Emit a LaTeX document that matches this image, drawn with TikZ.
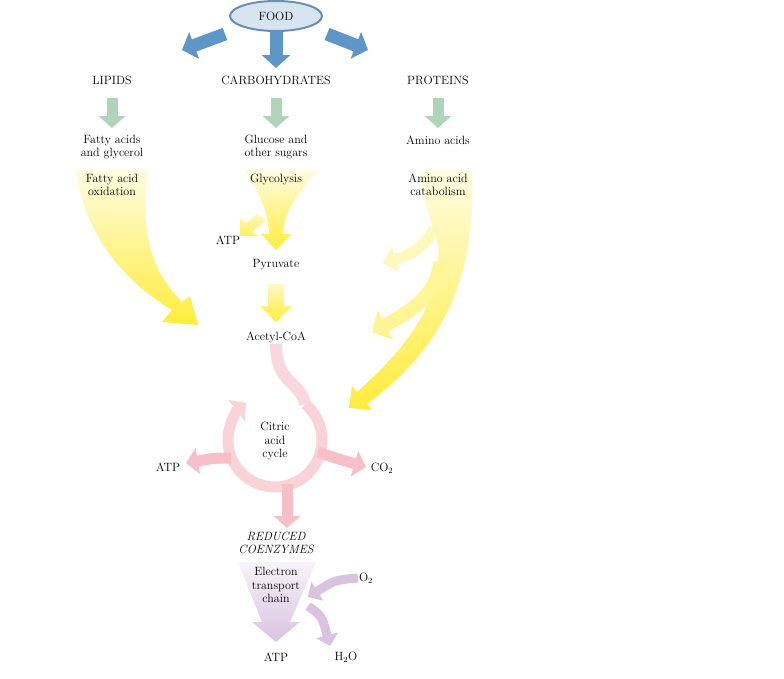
\documentclass[tikz,border=0pt]{standalone}
\usetikzlibrary{arrows.meta,calc,shapes.geometric}
\definecolor{fblue}{RGB}{95,150,200}
\definecolor{fgreen}{RGB}{175,212,185}
\definecolor{fyel}{RGB}{255,236,60}
\definecolor{fyell}{RGB}{255,244,170}
\definecolor{fpink}{RGB}{245,175,185}
\definecolor{fpur}{RGB}{218,195,225}
\begin{document}
\begin{tikzpicture}[x=1pt,y=-1pt,
  lbl/.style={font=\fontsize{12}{13.5}\selectfont,align=center,inner sep=1pt},
  barrow/.style={draw=fblue,line width=13,-{Triangle[length=13,width=28]}},
  garrow/.style={draw=fgreen,line width=11,-{Triangle[length=12,width=26]}},
  yarrow/.style={draw=fyel,line width=14,-{Triangle[length=14,width=30]}},
  parrow/.style={draw=fpink,line width=11,-{Triangle[length=12,width=26]}},
  uarrow/.style={draw=fpur,line width=9,-{Triangle[length=11,width=22]}}]
\useasboundingbox (0,0) rectangle (784,678);
% FOOD
\node[ellipse,draw=fblue!70!gray,line width=2,fill=fblue!25,minimum width=92,minimum height=30,lbl] (food) at (276,16) {FOOD};
\node[lbl] (lip) at (112,80) {LIPIDS};
\node[lbl] (carb) at (276,80) {CARBOHYDRATES};
\node[lbl] (prot) at (438,80) {PROTEINS};
\coordinate (bl) at (182,50); \coordinate (bm) at (276,68); \coordinate (br) at (368,50);
\draw[barrow] (225,34) -- (bl);
\draw[barrow] (food.south) -- (bm);
\draw[barrow] (327,34) -- (br);
% green
\coordinate (g1) at (112,128); \coordinate (g2) at (276,128); \coordinate (g3) at (438,128);
\draw[garrow] (112,98) -- (g1);
\draw[garrow] (276,98) -- (g2);
\draw[garrow] (438,98) -- (g3);
% lipid band
\shade[top color=fyel!15, bottom color=fyel] (76,170) .. controls (85,240) and (130,285) .. (172,310) -- (162,322) -- (198,325) -- (190,296) -- (182,302) .. controls (150,270) and (140,230) .. (148,170) -- cycle;
% glycolysis funnel
\shade[top color=fyel!15, bottom color=fyel] (244,170) -- (318,170) .. controls (292,200) and (284,215) .. (283,234) -- (291,234) -- (276,250) -- (261,234) -- (269,234) .. controls (268,214) and (262,195) .. (244,170) -- cycle;
\shade[top color=fyel!35, bottom color=fyel!80] (257,214) -- (266,220) -- (252,232) -- (258,236) -- (240,236) -- (240,218) -- (246,223) -- cycle;
% protein band
\shade[top color=fyel!15, bottom color=fyel] (420,170) -- (472,170) .. controls (478,300) and (425,360) .. (367,404) -- (372,410) -- (349,408) -- (352,386) -- (357,392) .. controls (410,345) and (442,300) .. (438,245) .. controls (430,215) and (422,200) .. (420,170) -- cycle;
\draw[yarrow,draw=fyel!35,line width=11,-{Triangle[length=13,width=26]}] (434,228) .. controls (425,248) and (410,255) .. (383,263);
\draw[yarrow,draw=fyel!55,line width=14,-{Triangle[length=15,width=32]}] (440,262) .. controls (438,295) and (410,312) .. (372,332);
\shade[top color=fyel!30, bottom color=fyel] (268,284) -- (284,284) -- (284,306) -- (292,306) -- (276,322) -- (260,306) -- (268,306) -- cycle;
% texts
\node[lbl] (fa) at (112,147) {Fatty acids\\and glycerol};
\node[lbl] (gl) at (276,147) {Glucose and\\other sugars};
\node[lbl] (aa) at (438,140) {Amino acids};
\node[lbl] (fox) at (112,185) {Fatty acid\\oxidation};
\node[lbl] (gly) at (276,179) {Glycolysis};
\node[lbl] (aac) at (438,185) {Amino acid\\catabolism};
\node[lbl] (atp1) at (228,240) {ATP};
\node[lbl] (pyr) at (276,265) {Pyruvate};
\node[lbl] (acoa) at (276,337) {Acetyl-CoA};
% citric acid cycle
\coordinate (cc) at (275,440);
\coordinate (ce) at ($(cc)+(-50:47)$);
\draw[draw=fpink!50!white,line width=12] (acoa.south) .. controls (276,385) and (300,380) .. (ce);
\draw[parrow,draw=fpink!55!white] (ce) arc[start angle=-50,end angle=232,radius=47];
\coordinate (atp2t) at (186,463);
\coordinate (co2t) at (366,467);
\coordinate (redt) at (287,528);
\draw[parrow,draw=fpink!80!white] (231,458) .. controls (215,458) .. (atp2t);
\draw[parrow,draw=fpink!80!white] (318,452) .. controls (335,458) .. (co2t);
\draw[parrow,draw=fpink!80!white] (287,484) -- (redt);
\node[lbl] (cac) at (275,441) {Citric\\acid\\cycle};
\node[lbl] (atp2) at (168,467) {ATP};
\node[lbl] (co2) at (382,468) {CO$_2$};
\node[lbl,font=\fontsize{12}{12.5}\selectfont\itshape] (red) at (276,543) {REDUCED\\COENZYMES};
% ETC
\shade[top color=fpur!20, bottom color=fpur] (238,562) -- (316,562) -- (290,622) -- (300,622) -- (276,642) -- (252,622) -- (262,622) -- cycle;
\node[lbl] (etc) at (276,585) {Electron\\transport\\chain};
\node[lbl] (o2) at (366,578) {O$_2$};
\node[lbl] (atp3) at (276,657) {ATP};
\node[lbl] (h2o) at (346,657) {H$_2$O};
\coordinate (o2t) at (308,597);
\coordinate (h2t) at (330,646);
\draw[uarrow] (o2.west) .. controls (335,580) .. (o2t);
\draw[uarrow] (308,606) .. controls (322,616) .. (h2t);
\end{tikzpicture}
\end{document}
